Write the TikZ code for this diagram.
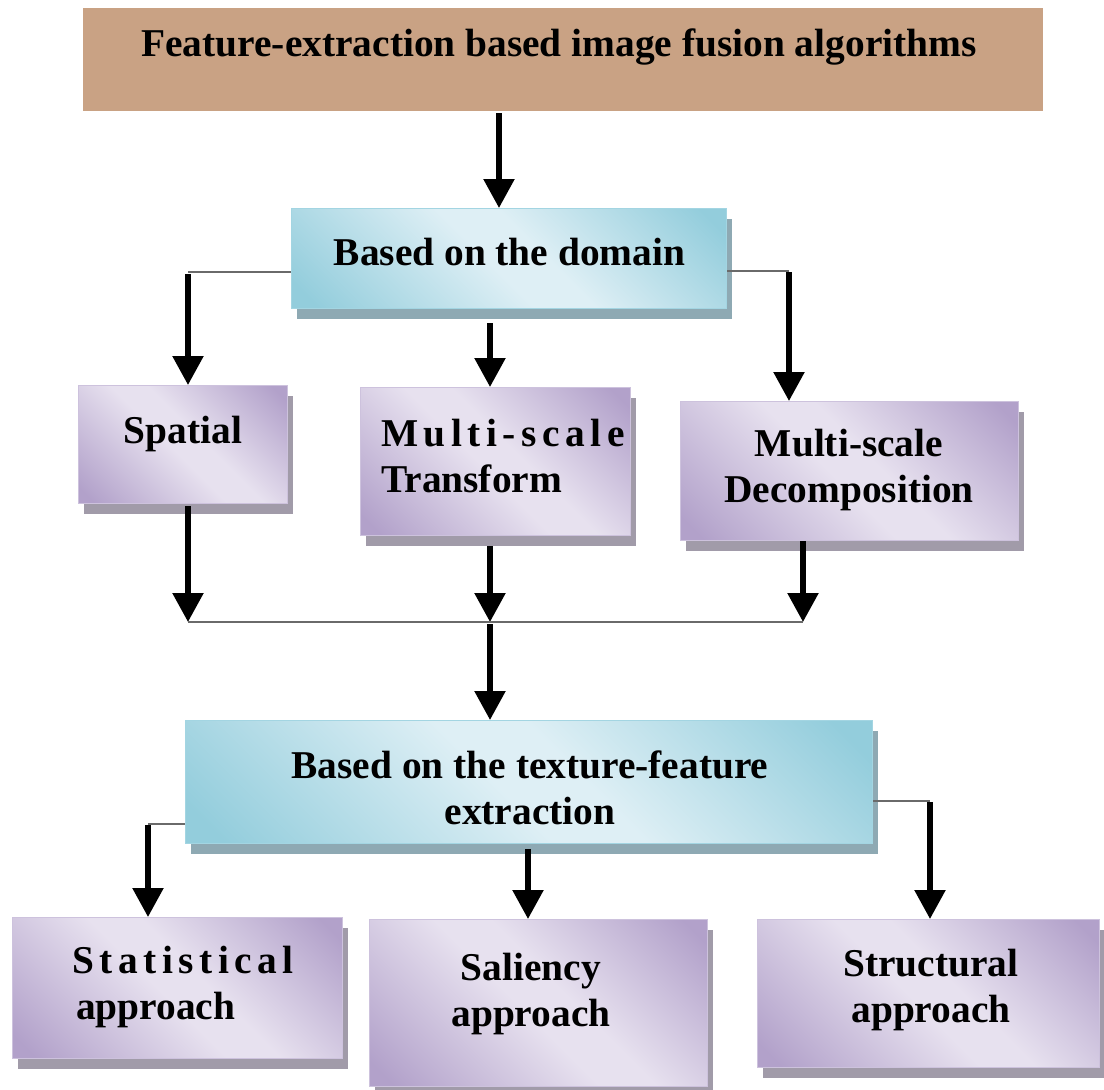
\documentclass[tikz,border=0pt]{standalone}
\usepackage{fontspec}
\setmainfont{Liberation Serif}
\usetikzlibrary{arrows.meta,shadows,calc}

\definecolor{titlefill}{HTML}{C9A284}
\definecolor{bluedark}{HTML}{93CDDC}
\definecolor{bluelight}{HTML}{DEEFF5}
\definecolor{blueline}{HTML}{A3D5E2}
\definecolor{blueshadow}{HTML}{8EA9B3}
\definecolor{purpdark}{HTML}{B2A1CA}
\definecolor{purplight}{HTML}{E7E1EF}
\definecolor{purpline}{HTML}{CDC2DD}
\definecolor{purpshadow}{HTML}{A19BA9}
\definecolor{thinline}{HTML}{6A6A6A}

\pgfdeclarehorizontalshading{blueshade}{100bp}{color(0bp)=(bluedark); color(18bp)=(bluedark); color(47bp)=(bluelight); color(55bp)=(bluelight); color(82bp)=(bluedark); color(100bp)=(bluedark)}
\pgfdeclarehorizontalshading{purpshade}{100bp}{color(0bp)=(purpdark); color(18bp)=(purpdark); color(47bp)=(purplight); color(55bp)=(purplight); color(82bp)=(purpdark); color(100bp)=(purpdark)}

\tikzset{
  boxbase/.style={rectangle, inner sep=0pt, anchor=north west},
  titlebox/.style={boxbase, fill=titlefill},
  bluebox/.style={boxbase, draw=blueline, line width=1pt, shading=blueshade, shading angle=45,
    drop shadow={shadow xshift=5pt, shadow yshift=-10pt, fill=blueshadow, opacity=1}},
  purpbox/.style={boxbase, draw=purpline, line width=1pt, shading=purpshade, shading angle=45,
    drop shadow={shadow xshift=5pt, shadow yshift=-10pt, fill=purpshadow, opacity=1}},
  lbl/.style={inner sep=0pt, font=\bfseries\fontsize{39.4}{46}\selectfont, align=center},
  lbll/.style={inner sep=0pt, font=\bfseries\fontsize{39.4}{46}\selectfont, align=left},
  bigarrow/.style={line width=5.5pt, -{Triangle[width=30pt,length=29pt]}},
  thinconn/.style={draw=thinline, line width=1.3pt},
}

\begin{document}
\begin{tikzpicture}[x=1pt,y=-1pt]
\useasboundingbox (0,0) rectangle (1104,1090);

% boxes
\node[titlebox, minimum width=960pt, minimum height=103pt] (title) at (83,8) {};
\node[bluebox, minimum width=435pt, minimum height=100pt] (dom) at (291,208) {};
\node[purpbox, minimum width=209pt, minimum height=118pt] (sp) at (78,385) {};
\node[purpbox, minimum width=270pt, minimum height=148pt] (tr) at (360,387) {};
\node[purpbox, minimum width=338pt, minimum height=139pt] (dc) at (680,401) {};
\node[bluebox, minimum width=687pt, minimum height=123pt] (tx) at (185,720) {};
\node[purpbox, minimum width=330pt, minimum height=141pt] (st) at (12,917) {};
\node[purpbox, minimum width=338pt, minimum height=167pt] (sa) at (369,919) {};
\node[purpbox, minimum width=342pt, minimum height=148pt] (su) at (757,919) {};

% texts (anchor base = baseline of the last line)
\node[lbl, anchor=base] (titletxt) at (559,56) {Feature-extraction based image fusion algorithms};
\node[lbl, anchor=base] (domtxt) at (509.5,265) {Based on the domain};
\node[lbl, anchor=base] (sptxt) at (183,443) {Spatial};
\node[lbll, anchor=base west] (trtxt) at (381,492) {{\addfontfeatures{LetterSpace=14}Multi-scale}\\Transform};
\node[lbl, anchor=base] (dctxt) at (849,502) {Multi-scale\\Decomposition};
\node[lbl, anchor=base] (txtxt) at (530,824) {Based on the texture-feature\\extraction};
\node[lbll, anchor=base west] (sttxt) at (72,1019) {{\addfontfeatures{LetterSpace=14}Statistical}\\\hspace*{4pt}approach};
\node[lbl, anchor=base] (satxt) at (531,1026) {Saliency\\approach};
\node[lbl, anchor=base] (sutxt) at (931,1022) {Structural\\approach};

% junction coordinates
\coordinate (cT) at (499,0);
\coordinate (cM) at (490,0);
\coordinate (cS) at (528,0);
\coordinate (jL) at (188,272);
\coordinate (jR) at (789,271);
\coordinate (bL) at (188,622);
\coordinate (bM) at (490,622);
\coordinate (bR) at (803,622);
\coordinate (tL) at (148,824);
\coordinate (tR) at (930,801);

% connectors
\draw[bigarrow, shorten <=2pt] (title.south -| cT) -- (dom.north -| cT);
\draw[thinconn] (dom.west |- jL) -- (jL);
\draw[bigarrow] ([yshift=-2pt]jL) -- (sp.north -| jL);
\draw[bigarrow, shorten <=14pt] (dom.south -| cM) -- (tr.north -| cM);
\draw[thinconn] (dom.east |- jR) -- (jR);
\draw[bigarrow] ([yshift=-1pt]jR) -- (dc.north -| jR);
\draw[bigarrow, shorten <=2pt] (sp.south -| bL) -- (bL);
\draw[bigarrow, shorten <=10pt] (tr.south -| bM) -- (bM);
\draw[bigarrow] (dc.south -| bR) -- (bR);
\draw[thinconn] (bL) -- (bR);
\draw[bigarrow] ([yshift=-2pt]bM) -- (tx.north -| bM);
\draw[thinconn] (tx.west |- tL) -- (tL);
\draw[bigarrow] ([yshift=-1pt]tL) -- (st.north -| tL);
\draw[bigarrow, shorten <=5pt] (tx.south -| cS) -- (sa.north -| cS);
\draw[thinconn] (tx.east |- tR) -- (tR);
\draw[bigarrow] ([yshift=-1pt]tR) -- (su.north -| tR);
\end{tikzpicture}
\end{document}
